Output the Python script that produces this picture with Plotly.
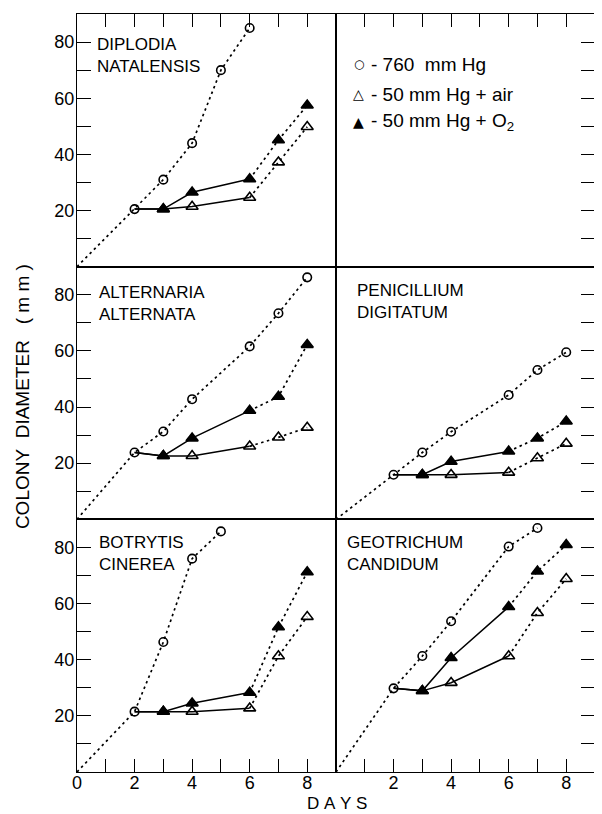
import plotly.graph_objects as go

# ---------------- data ----------------
treat_days = [3, 4, 6, 7, 8]          # days for the 50 mm Hg treatments

diplodia_760_days = [0, 2, 3, 4, 5, 6]
diplodia_760 = [0, 20.5, 31, 44, 70, 85]
diplodia_air = [20.5, 21.4, 24.6, 37.2, 49.8]
diplodia_o2 = [20.5, 26.5, 31.2, 45.1, 57.5]

alternaria_760_days = [0, 2, 3, 4, 6, 7, 8]
alternaria_760 = [0, 23.8, 31.3, 42.8, 61.6, 73.4, 86.2]
alternaria_air = [22.6, 22.6, 26.0, 29.2, 32.7]
alternaria_o2 = [22.6, 28.9, 38.7, 43.7, 62.2]

penicillium_760_days = [0, 2, 3, 4, 6, 7, 8]
penicillium_760 = [0, 15.9, 23.8, 31.2, 44.3, 53.2, 59.5]
penicillium_air = [15.9, 15.9, 16.7, 21.8, 27.0]
penicillium_o2 = [15.9, 20.6, 24.2, 28.9, 34.9]

botrytis_760_days = [0, 2, 3, 4, 5]
botrytis_760 = [0, 21.5, 46.3, 76.0, 85.7]
botrytis_air = [21.5, 21.5, 22.7, 41.3, 55.3]
botrytis_o2 = [21.5, 24.5, 28.3, 51.6, 71.2]

geotrichum_760_days = [0, 2, 3, 4, 6, 7]
geotrichum_760 = [0, 29.8, 41.3, 53.7, 80.3, 86.9]
geotrichum_air = [28.9, 31.8, 41.3, 56.7, 68.8]
geotrichum_o2 = [28.9, 40.7, 58.8, 71.5, 80.9]

panel_names = ["DIPLODIA<br>NATALENSIS", "ALTERNARIA<br>ALTERNATA", "PENICILLIUM<br>DIGITATUM",
               "BOTRYTIS<br>CINEREA", "GEOTRICHUM<br>CANDIDUM"]
legend_labels = ["- 760\u00a0 mm Hg", "- 50 mm Hg + air", "- 50 mm Hg + O<sub>2</sub>"]
y_title = "COLONY\u00a0\u00a0DIAMETER\u00a0\u00a0\u00a0(\u00a0m\u00a0m\u00a0)"
x_title = "D\u00a0A\u00a0Y\u00a0S"
y_ticks = [10, 20, 30, 40, 50, 60, 70, 80]
y_ticktext = ["", "20", "", "40", "", "60", "", "80"]
x_ticks = [0, 1, 2, 3, 4, 5, 6, 7, 8]
x_ticktext_left = ["0", "", "2", "", "4", "", "6", "", "8"]
x_ticktext_right = ["", "", "2", "", "4", "", "6", "", "8"]

# panel index (1..6): 1 top-left, 2 top-right(legend), 3 mid-left, 4 mid-right, 5 bot-left, 6 bot-right
panels = {
    1: (diplodia_760_days, diplodia_760, diplodia_air, diplodia_o2, panel_names[0]),
    3: (alternaria_760_days, alternaria_760, alternaria_air, alternaria_o2, panel_names[1]),
    4: (penicillium_760_days, penicillium_760, penicillium_air, penicillium_o2, panel_names[2]),
    5: (botrytis_760_days, botrytis_760, botrytis_air, botrytis_o2, panel_names[3]),
    6: (geotrichum_760_days, geotrichum_760, geotrichum_air, geotrichum_o2, panel_names[4]),
}
title_pos = {1: (0.069, 0.925), 3: (0.077, 0.943), 4: (0.073, 0.951), 5: (0.077, 0.954), 6: (0.035, 0.954)}

FONT = "Liberation Sans, Arial, sans-serif"
LW = 1.5
BW = 1.3
DOT = "2.5px,3.5px"
fig = go.Figure()

for idx, (cdays, cvals, air, o2, name) in panels.items():
    xa = "x" if idx == 1 else f"x{idx}"
    ya = "y" if idx == 1 else f"y{idx}"
    # 760 mm Hg: dotted line from origin, open circles
    fig.add_trace(go.Scatter(x=cdays, y=cvals, xaxis=xa, yaxis=ya, mode="lines",
                             line=dict(color="black", width=1.7, dash=DOT), showlegend=False))
    fig.add_trace(go.Scatter(x=cdays[1:], y=cvals[1:], xaxis=xa, yaxis=ya, mode="markers",
                             marker=dict(symbol="circle-open", size=8.5, color="black", line=dict(width=1.6)),
                             showlegend=False))
    start_x = cdays[1]
    start_y = cvals[1]
    for vals, sym in ((air, "triangle-up-open"), (o2, "triangle-up")):
        # solid segment from day-2 circle to day 6
        fig.add_trace(go.Scatter(x=[start_x] + treat_days[:3], y=[start_y] + vals[:3], xaxis=xa, yaxis=ya,
                                 mode="lines", line=dict(color="black", width=LW), showlegend=False))
        # dotted segment from day 6 onwards
        fig.add_trace(go.Scatter(x=treat_days[2:], y=vals[2:], xaxis=xa, yaxis=ya, mode="lines",
                                 line=dict(color="black", width=1.7, dash=DOT), showlegend=False))
        fig.add_trace(go.Scatter(x=treat_days, y=vals, xaxis=xa, yaxis=ya, mode="markers",
                                 marker=dict(symbol=sym, size=10.5, color="black", line=dict(width=1.6, color="black")),
                                 showlegend=False))

# empty trace so that the legend panel (top-right) is created
fig.add_trace(go.Scatter(x=[None], y=[None], xaxis="x2", yaxis="y2", mode="markers",
                         showlegend=False, hoverinfo="skip"))

# ---------------- axes ----------------
layout = {}
row_domains = [[2 / 3, 1.0], [1 / 3, 2 / 3], [0.0, 1 / 3]]
col_domains = [[0.0, 0.5], [0.5, 1.0]]
tick_font = dict(family=FONT, size=18, color="black")
for r in range(3):
    for c in range(2):
        idx = r * 2 + c + 1
        xkey = "xaxis" if idx == 1 else f"xaxis{idx}"
        ykey = "yaxis" if idx == 1 else f"yaxis{idx}"
        xanchor = "y" if idx == 1 else f"y{idx}"
        yanchor = "x" if idx == 1 else f"x{idx}"
        xa = dict(domain=col_domains[c], anchor=xanchor, range=[0, 9], showgrid=False, zeroline=False,
                  showline=True, mirror=True, linecolor="black", linewidth=BW, automargin=False,
                  tickcolor="black", tickwidth=BW, ticklen=13, tickfont=tick_font, fixedrange=True)
        if r == 0:
            xa.update(side="top", ticks="inside", tickvals=x_ticks[1:], showticklabels=False)
        elif r == 1:
            xa.update(ticks="", showticklabels=False)
        else:
            xa.update(side="bottom", ticks="inside", tickvals=x_ticks, ticklabelstandoff=-6,
                      ticktext=x_ticktext_left if c == 0 else x_ticktext_right)
        ya = dict(domain=row_domains[r], anchor=yanchor, range=[0, 90], showgrid=False, zeroline=False,
                  showline=True, mirror=True, linecolor="black", linewidth=BW, automargin=False,
                  tickcolor="black", tickwidth=BW, ticklen=14, ticks="inside", tickvals=y_ticks,
                  tickfont=tick_font, fixedrange=True)
        if c == 0:
            ya.update(side="left", ticktext=y_ticktext, ticklabelstandoff=-2)
        else:
            ya.update(side="right", showticklabels=False)
        layout[xkey] = xa
        layout[ykey] = ya

annotations = []
for idx, (_, _, _, _, name) in panels.items():
    xr = "x domain" if idx == 1 else f"x{idx} domain"
    yr = "y domain" if idx == 1 else f"y{idx} domain"
    px, py = title_pos[idx]
    annotations.append(dict(text=name, xref=xr, yref=yr, x=px, y=py, xanchor="left", yanchor="top",
                            align="left", showarrow=False, font=dict(family=FONT, size=17, color="black")))

# legend in top-right panel
legend_syms = ["○", "△", "▲"]
legend_sym_sizes = [12, 14, 14]
legend_y = [0.802, 0.683, 0.573]
for sym, ssz, lab, ly in zip(legend_syms, legend_sym_sizes, legend_labels, legend_y):
    annotations.append(dict(text=sym, xref="x2 domain", yref="y2 domain", x=0.087, y=ly,
                            xanchor="center", yanchor="middle", showarrow=False,
                            font=dict(family="DejaVu Sans", size=ssz, color="black")))
    annotations.append(dict(text=lab, xref="x2 domain", yref="y2 domain", x=0.128, y=ly,
                            xanchor="left", yanchor="middle", showarrow=False,
                            font=dict(family=FONT, size=19, color="black")))

annotations.append(dict(text=y_title, xref="paper", yref="paper", x=-0.106, y=0.4947,
                        textangle=-90, xanchor="center", yanchor="middle", showarrow=False,
                        font=dict(family=FONT, size=19, color="black")))
annotations.append(dict(text=x_title, xref="paper", yref="paper", x=0.502, y=-0.041,
                        xanchor="center", yanchor="middle", showarrow=False,
                        font=dict(family=FONT, size=17, color="black")))

fig.update_layout(**layout)
# the page body adds an 8 px offset; the figure is sized so the plot lands where the reference has it
fig.update_layout(template="none", width=594, height=806, margin=dict(l=69, r=7, t=6, b=42),
                  paper_bgcolor="white", plot_bgcolor="white", showlegend=False,
                  annotations=annotations, font=dict(family=FONT, color="black"))

fig.write_html("out.html")
